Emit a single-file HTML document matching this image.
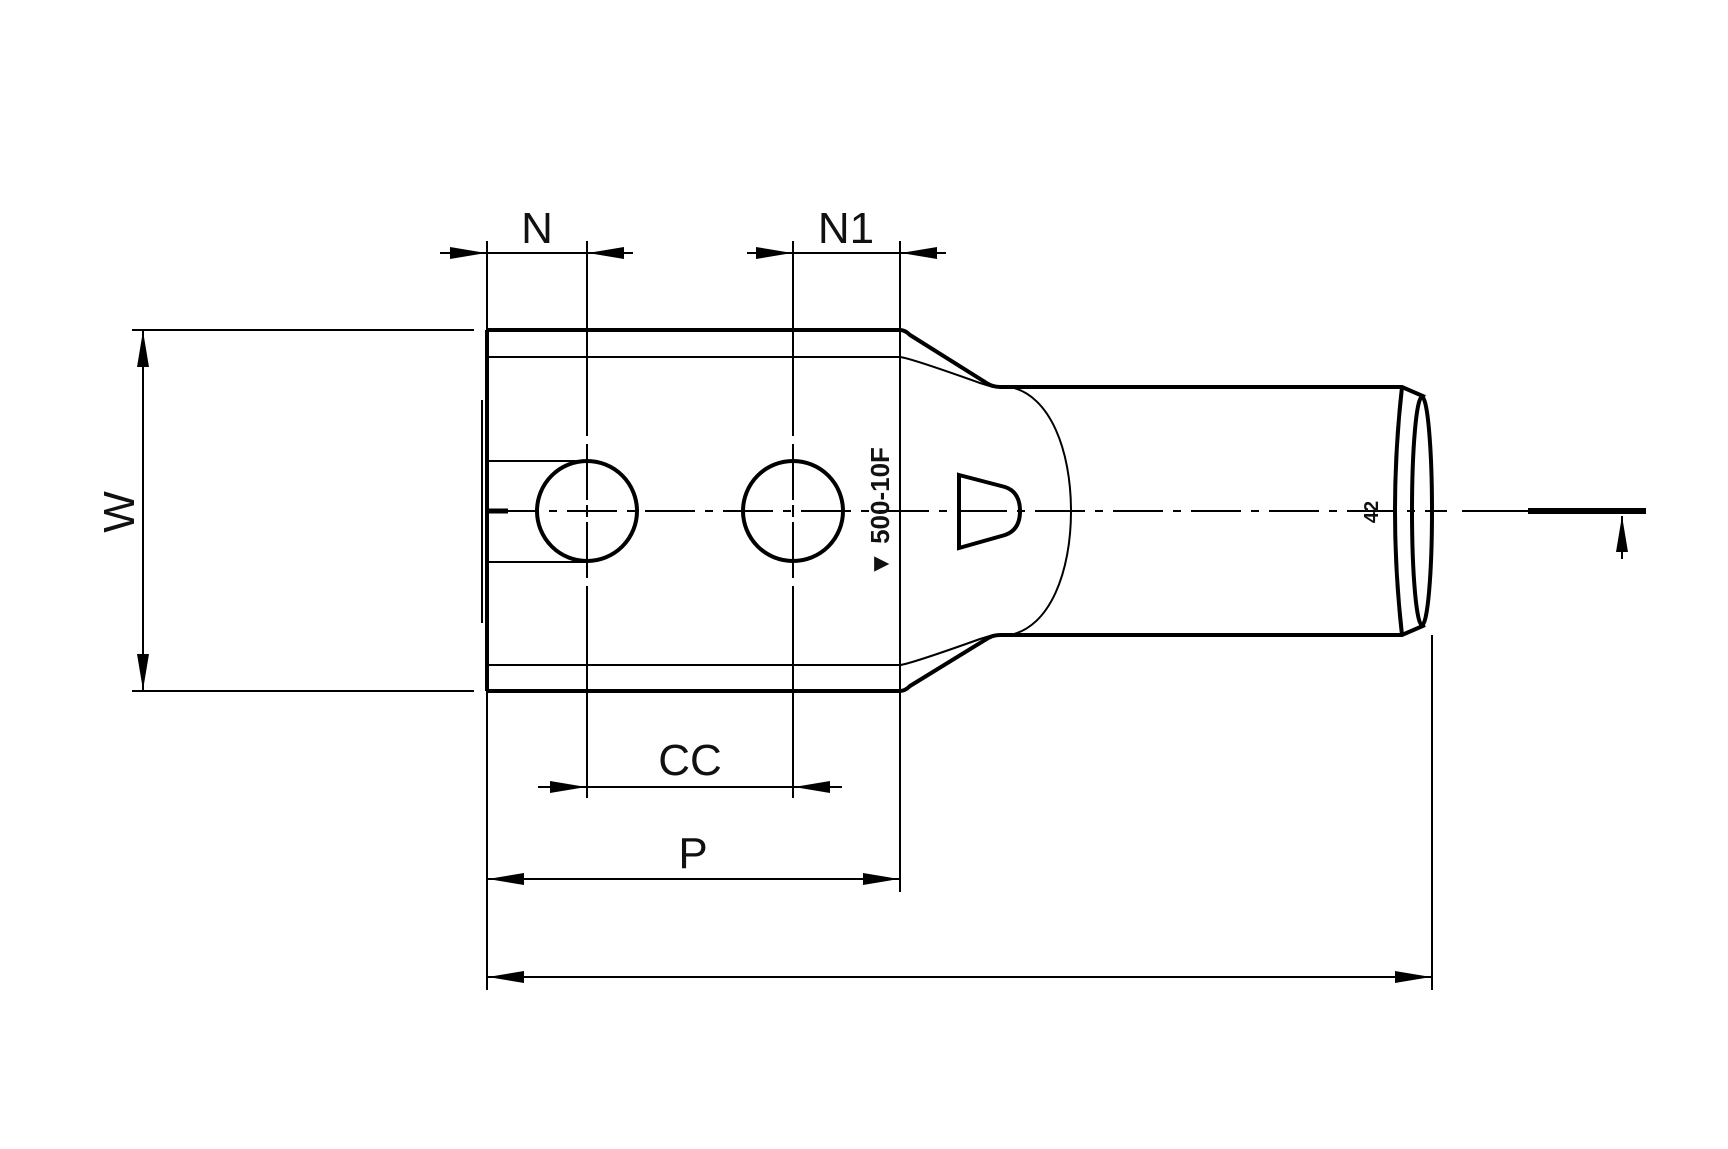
<!DOCTYPE html>
<html><head><meta charset="utf-8"><style>
html,body{margin:0;padding:0;background:#fff;}
svg{display:block;}
text{font-family:"Liberation Sans",sans-serif;fill:#111;}
</style></head><body>
<svg width="1728" height="1149" viewBox="0 0 1728 1149" xmlns="http://www.w3.org/2000/svg">
<defs>
<marker id="a" viewBox="0 0 36 12" refX="36" refY="6" markerWidth="36" markerHeight="12" markerUnits="userSpaceOnUse" orient="auto-start-reverse"><path d="M0,0 L36,6 L0,12 Z" fill="#000"/></marker>
</defs>
<g stroke="#000" fill="none">
<path d="M487,330 L900,330 Q905,330 910,335 L985,382 Q992,387 1000,387 L1402,387 L1425,397" stroke-width="4"/>
<path d="M487,691 L900,691 Q905,691 910,686 L985,640 Q992,635 1000,635 L1402,635 L1425,625" stroke-width="4"/>
<line x1="487" y1="330" x2="487" y2="691" stroke-width="4"/>
<line x1="482" y1="400" x2="482" y2="623" stroke-width="2"/>
<path d="M487,357 L900,357 Q910,358 980,383 L993,387" stroke-width="2"/>
<path d="M487,665 L900,665 Q910,664 980,639 L993,635" stroke-width="2"/>
<path d="M1010,387 C1050,395 1071,450 1071,511 C1071,572 1050,627 1010,635" stroke-width="2"/>
<path d="M1402,387 Q1388,511 1402,635" stroke-width="4"/>
<ellipse cx="1422" cy="511" rx="10" ry="114" stroke-width="4"/>
<path d="M959,475 L1005,487 Q1020,492 1020,511 Q1020,530 1005,535 L959,548 Z" stroke-width="4"/>
<circle cx="587" cy="511" r="50" stroke-width="4"/>
<circle cx="793" cy="511" r="50" stroke-width="4"/>
<line x1="489" y1="461" x2="587" y2="461" stroke-width="2"/>
<line x1="489" y1="562" x2="587" y2="562" stroke-width="2"/>
<line x1="489" y1="511" x2="508" y2="511" stroke-width="5"/>
<line x1="489" y1="511" x2="1447" y2="511" stroke-width="2" stroke-dasharray="50,10,8,10"/>
<line x1="1462" y1="511" x2="1528" y2="511" stroke-width="2"/>
<line x1="1528" y1="511" x2="1646" y2="511" stroke-width="6"/>
<line x1="1622" y1="559" x2="1622" y2="516" stroke-width="2" marker-end="url(#a)"/>
<path d="M587,241 V436 M587,444 V500 M587,505 V517 M587,522 V578 M587,586 V798" stroke-width="2"/>
<path d="M793,241 V436 M793,444 V500 M793,505 V517 M793,522 V578 M793,586 V798" stroke-width="2"/>
<line x1="487" y1="241" x2="487" y2="990" stroke-width="2"/>
<line x1="900" y1="241" x2="900" y2="892" stroke-width="2"/>
<line x1="1432" y1="635" x2="1432" y2="990" stroke-width="2"/>
<line x1="132" y1="330" x2="474" y2="330" stroke-width="2"/>
<line x1="132" y1="691" x2="474" y2="691" stroke-width="2"/>
<line x1="143" y1="511" x2="143" y2="331" stroke-width="2" marker-end="url(#a)"/>
<line x1="143" y1="511" x2="143" y2="690" stroke-width="2" marker-end="url(#a)"/>
<line x1="440" y1="253" x2="486" y2="253" stroke-width="2" marker-end="url(#a)"/>
<line x1="486" y1="253" x2="587" y2="253" stroke-width="2"/>
<line x1="633" y1="253" x2="588" y2="253" stroke-width="2" marker-end="url(#a)"/>
<line x1="747" y1="253" x2="792" y2="253" stroke-width="2" marker-end="url(#a)"/>
<line x1="793" y1="253" x2="900" y2="253" stroke-width="2"/>
<line x1="946" y1="253" x2="901" y2="253" stroke-width="2" marker-end="url(#a)"/>
<line x1="538" y1="787" x2="586" y2="787" stroke-width="2" marker-end="url(#a)"/>
<line x1="587" y1="787" x2="793" y2="787" stroke-width="2"/>
<line x1="842" y1="787" x2="794" y2="787" stroke-width="2" marker-end="url(#a)"/>
<line x1="693" y1="879" x2="488" y2="879" stroke-width="2" marker-end="url(#a)"/>
<line x1="693" y1="879" x2="899" y2="879" stroke-width="2" marker-end="url(#a)"/>
<line x1="960" y1="977" x2="488" y2="977" stroke-width="2" marker-end="url(#a)"/>
<line x1="960" y1="977" x2="1431" y2="977" stroke-width="2" marker-end="url(#a)"/>
</g>
<text x="537" y="243" font-size="44" text-anchor="middle">N</text>
<text x="846" y="243" font-size="44" text-anchor="middle">N1</text>
<text x="690" y="775" font-size="44" text-anchor="middle">CC</text>
<text x="693" y="868" font-size="44" text-anchor="middle">P</text>
<text transform="translate(134,512) rotate(-90)" font-size="44" text-anchor="middle">W</text>
<text transform="translate(889,512) rotate(-90)" font-size="26" font-weight="bold" text-anchor="middle">▼ 500-10F</text>
<text transform="translate(1378,512) rotate(-90)" font-size="20" font-weight="bold" text-anchor="middle">42</text>
</svg>
</body></html>
